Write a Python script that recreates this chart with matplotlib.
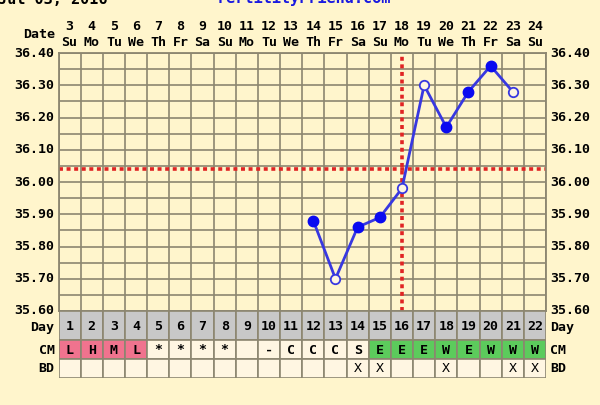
import numpy as np
import matplotlib
matplotlib.use("Agg")
import matplotlib.pyplot as plt
from matplotlib.transforms import blended_transform_factory

# ---------------- data ----------------
days = list(range(1, 23))
dates = [str(d) for d in range(3, 25)]
weekdays = ["Su", "Mo", "Tu", "We", "Th", "Fr", "Sa"] * 3 + ["Su"]
temp_days = [12, 13, 14, 15, 16, 17, 18, 19, 20, 21]
temps = [35.88, 35.70, 35.86, 35.89, 35.98, 36.30, 36.17, 36.28, 36.36, 36.28]
open_days = [13, 16, 17, 21]          # hollow markers
cm = ["L", "H", "M", "L", "*", "*", "*", "*", "", "-", "C",
      "C", "C", "S", "E", "E", "E", "W", "E", "W", "W", "W"]
cm_kind = ["p", "p", "p", "p"] + ["n"] * 10 + ["g"] * 8   # p=pink, g=green, n=none
bd = ["", "", "", "", "", "", "", "", "", "", "", "",
      "", "X", "X", "", "", "X", "", "", "X", "X"]
coverline = 36.04
ovulation_day = 16
y_ticks = [35.60, 35.70, 35.80, 35.90, 36.00, 36.10, 36.20, 36.30, 36.40]

# ---------------- style ----------------
BG = "#FFF5CC"
PLOT_BG = "#FFF5CC"
GRID = "#8C8670"
CELL = "#FFF6E2"
GRAY = "#C8C8C8"
PINK = "#F0738E"
GREEN = "#5CCB5C"
BLUE_LINE = "#3838E0"
BLUE_PT = "#0A0AF0"
RED = "#E02424"
FONT = "DejaVu Sans Mono"
FS = 9.5

W, H = 600, 405
fig = plt.figure(figsize=(W / 100, H / 100), dpi=100, facecolor=BG)

L, R = 58.5, 546.0
TOP, BOT = 53.0, 311.0
TBOT = 378.0

def fx(px):
    return px / W

def fy(py):
    return 1 - py / H

ax = fig.add_axes([fx(L), fy(BOT), fx(R - L), (BOT - TOP) / H])
ax.set_facecolor(PLOT_BG)
ax.set_xlim(0.5, 22.5)
ax.set_ylim(35.60, 36.40)
ax.set_xticks(np.arange(0.5, 23, 1.0))
ax.set_yticks(np.arange(35.60, 36.401, 0.05))
ax.tick_params(length=0, labelbottom=False, labelleft=False)
ax.grid(True, color=GRID, lw=1.2)
ax.set_axisbelow(True)
for s in ax.spines.values():
    s.set_color(GRID)
    s.set_linewidth(1.3)

# coverline and ovulation line
ax.axhline(coverline, color=RED, lw=2.6, dashes=(1.1, 1.0), zorder=2)
ax.axvline(ovulation_day, color=RED, lw=2.6, dashes=(1.1, 1.0), zorder=2)

# temperature line
ax.plot(temp_days, temps, color=BLUE_LINE, lw=2.0, zorder=3)
fill_x = [d for d in temp_days if d not in open_days]
fill_y = [t for d, t in zip(temp_days, temps) if d not in open_days]
open_x = [d for d in temp_days if d in open_days]
open_y = [t for d, t in zip(temp_days, temps) if d in open_days]
ax.plot(fill_x, fill_y, "o", color=BLUE_PT, ms=7.5, zorder=4)
ax.plot(open_x, open_y, "o", mfc=CELL, mec=BLUE_LINE, mew=1.3, ms=6.8, zorder=4)

# y labels both sides
ty = blended_transform_factory(ax.transAxes, ax.transData)
for v in y_ticks:
    ax.text(-0.008, v, f"{v:.2f}", transform=ty, ha="right", va="center",
            fontsize=FS, fontweight="bold", family=FONT)
    ax.text(1.008, v, f"{v:.2f}", transform=ty, ha="left", va="center",
            fontsize=FS, fontweight="bold", family=FONT)

# top date labels
tx = blended_transform_factory(ax.transData, fig.transFigure)
for d, dt, wd in zip(days, dates, weekdays):
    ax.text(d, fy(26), dt, transform=tx, ha="center", va="center",
            fontsize=FS, fontweight="bold", family=FONT)
    ax.text(d, fy(42), wd, transform=tx, ha="center", va="center",
            fontsize=FS, fontweight="bold", family=FONT)
fig.text(fx(55), fy(34), "Date", ha="right", va="center",
         fontsize=FS, fontweight="bold", family=FONT)

# ---------------- table ----------------
tax = fig.add_axes([fx(L), fy(TBOT), fx(R - L), (TBOT - BOT) / H])
tax.set_xlim(0.5, 22.5)
tax.set_ylim(TBOT - BOT, 0)
tax.axis("off")
rows = [(0, 29), (29, 19), (48, 19)]
kind_col = {"p": PINK, "g": GREEN, "n": CELL}
tax.bar(days, rows[0][1], bottom=rows[0][0], width=1.0, color=GRAY,
        edgecolor=GRID, lw=1.2)
tax.bar(days, rows[1][1], bottom=rows[1][0], width=1.0,
        color=[kind_col[k] for k in cm_kind], edgecolor=GRID, lw=1.2)
tax.bar(days, rows[2][1], bottom=rows[2][0], width=1.0, color=CELL,
        edgecolor=GRID, lw=1.2)
for d in days:
    tax.text(d, 15, str(d), ha="center", va="center", fontsize=FS,
             fontweight="bold", family=FONT)
    tax.text(d, 39, cm[d - 1], ha="center", va="center", fontsize=FS,
             fontweight="bold", family=FONT)
    tax.text(d, 58, bd[d - 1], ha="center", va="center", fontsize=FS,
             family=FONT)
tty = blended_transform_factory(tax.transAxes, tax.transData)
for label, yc in [("Day", 16), ("CM", 39), ("BD", 58)]:
    tax.text(-0.008, yc, label, transform=tty, ha="right", va="center",
             fontsize=FS, fontweight="bold", family=FONT)
    tax.text(1.008, yc, label, transform=tty, ha="left", va="center",
             fontsize=FS, fontweight="bold", family=FONT)

# header texts, clipped at the top edge as in the reference
fig.text(fx(-2), fy(3.5), "Jul 03, 2016", ha="left", va="baseline",
         fontsize=11, fontweight="bold", family=FONT, color="black")
fig.text(fx(218), fy(3), "FertilityFriend.com", ha="left", va="baseline",
         fontsize=11, fontweight="bold", family=FONT, color="#1A1AE0")

fig.savefig("out.png", dpi=100, facecolor=BG)
